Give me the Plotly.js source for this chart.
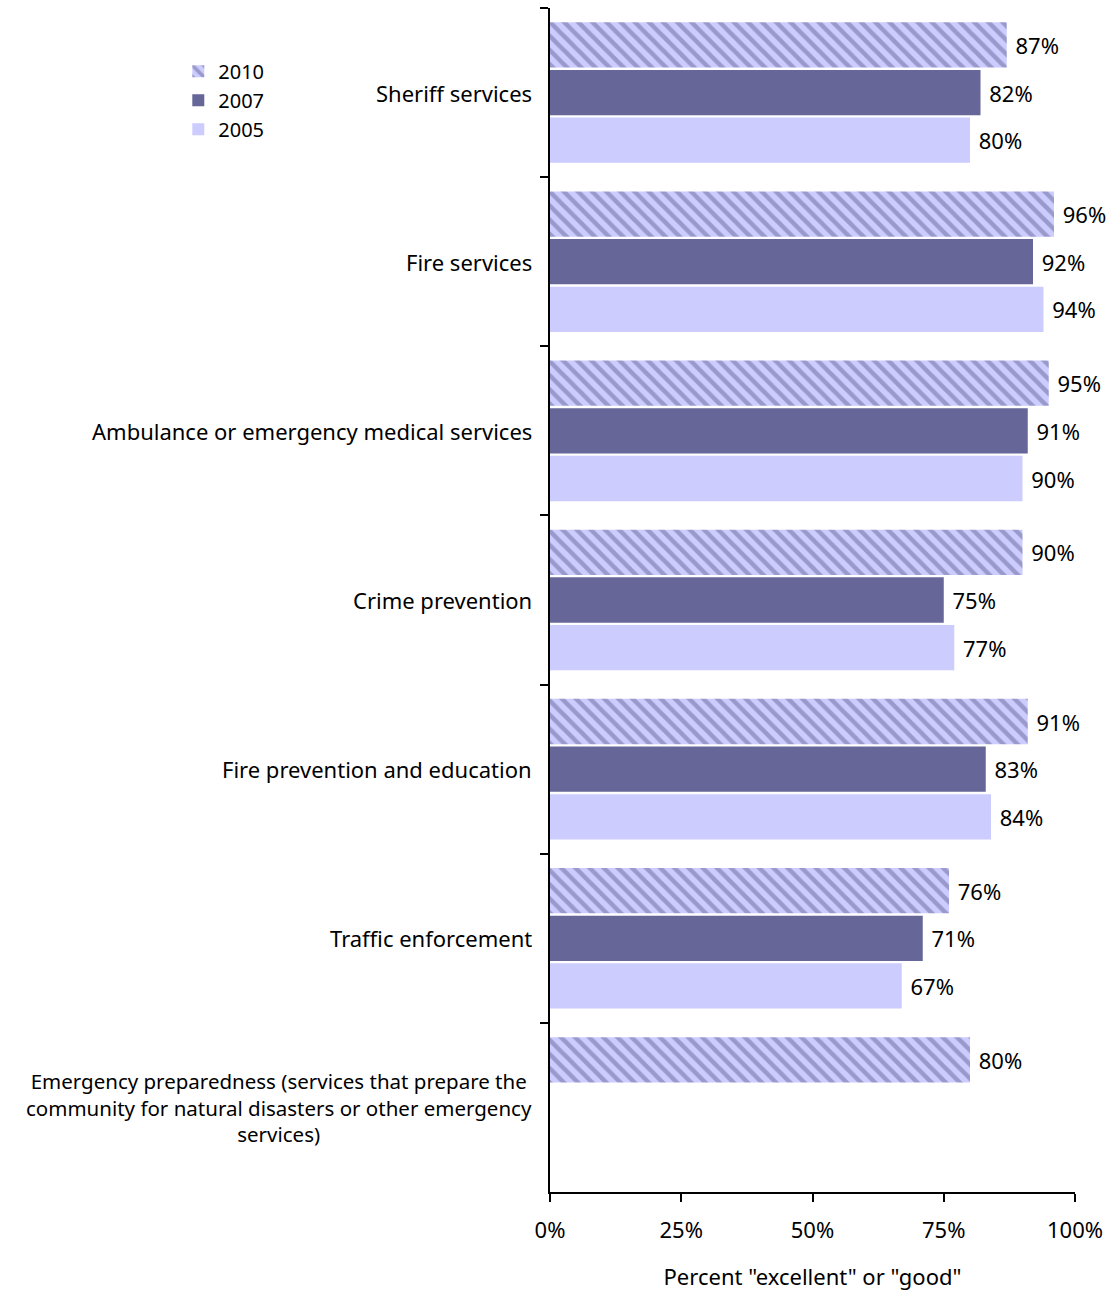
<!DOCTYPE html>
<html>
<head>
<meta charset="utf-8">
<script src="https://cdn.plot.ly/plotly-3.0.1.min.js"></script>
<style>html,body{margin:0;padding:0;background:#fff;}#chart{width:1109px;height:1291px;}</style>
</head>
<body>
<div id="chart"></div>
<script>
const categories = [
  "Sheriff services",
  "Fire services",
  "Ambulance or emergency medical services",
  "Crime prevention",
  "Fire prevention and education",
  "Traffic enforcement",
  "Emergency preparedness (services that prepare the<br>community for natural disasters or other emergency<br>services)"
];
const values2010 = [87, 96, 95, 90, 91, 76, 80];
const values2007 = [82, 92, 91, 75, 83, 71, null];
const values2005 = [80, 94, 90, 77, 84, 67, null];
const xTicks = [0, 25, 50, 75, 100];

const FONT = "Noto Sans, sans-serif";
const FS = 22;
function mk(name, vals, marker) {
  return {
    type: "bar", orientation: "h", name: name,
    y: categories, x: vals,
    marker: marker,
    text: vals.map(v => v == null ? "" : "\u00a0" + v + "%"),
    textposition: "outside",
    constraintext: "none",
    cliponaxis: false,
    textfont: {family: FONT, size: FS, color: "#000"},
    hoverinfo: "x+y"
  };
}
const data = [
  mk("2010", values2010, {color: "#CCCCFF", pattern: {shape: "\\", fgcolor: "#666699", bgcolor: "#CCCCFF", size: 10, solidity: 0.45, fillmode: "overlay"}}),
  mk("2007", values2007, {color: "#666699"}),
  mk("2005", values2005, {color: "#CCCCFF"})
];

const annotations = categories.map(c => ({
  xref: "paper", yref: "y", x: 0, y: c, xanchor: "right", yanchor: "middle",
  xshift: -16, text: c, showarrow: false, align: "center",
  font: {family: FONT, size: c.indexOf("<br>") >= 0 ? 20.5 : FS, color: "#000"}
}));

const layout = {
  width: 1109, height: 1291,
  margin: {l: 550, r: 34, t: 8, b: 99},
  paper_bgcolor: "#fff", plot_bgcolor: "#fff",
  font: {family: FONT, size: FS, color: "#000"},
  barmode: "group", bargap: 0.155, bargroupgap: 0.05,
  showlegend: true,
  legend: {x: -0.708, y: 0.963, xanchor: "left", yanchor: "top", traceorder: "normal",
           font: {family: FONT, size: 20, color: "#000"}, itemwidth: 30, tracegroupgap: 0, bgcolor: "rgba(0,0,0,0)"},
  xaxis: {
    range: [0, 100], tickvals: xTicks, ticktext: xTicks.map(v => v + "%"),
    showgrid: false, zeroline: false, showline: true, linecolor: "#000", linewidth: 2,
    ticks: "outside", ticklen: 8, tickwidth: 2, tickcolor: "#000",
    ticklabelstandoff: 10,
    tickfont: {family: FONT, size: FS, color: "#000"},
    title: {text: 'Percent "excellent" or "good"', font: {family: FONT, size: FS, color: "#000"}, standoff: 30},
    fixedrange: true
  },
  yaxis: {
    type: "category", autorange: "reversed",
    showticklabels: false, showgrid: false, zeroline: false,
    showline: true, linecolor: "#000", linewidth: 2,
    ticks: "outside", ticklen: 8, tickwidth: 2, tickcolor: "#000", tickson: "boundaries",
    fixedrange: true
  },
  annotations: annotations
};
Plotly.newPlot("chart", data, layout, {displayModeBar: false, staticPlot: true});
</script>
</body>
</html>
